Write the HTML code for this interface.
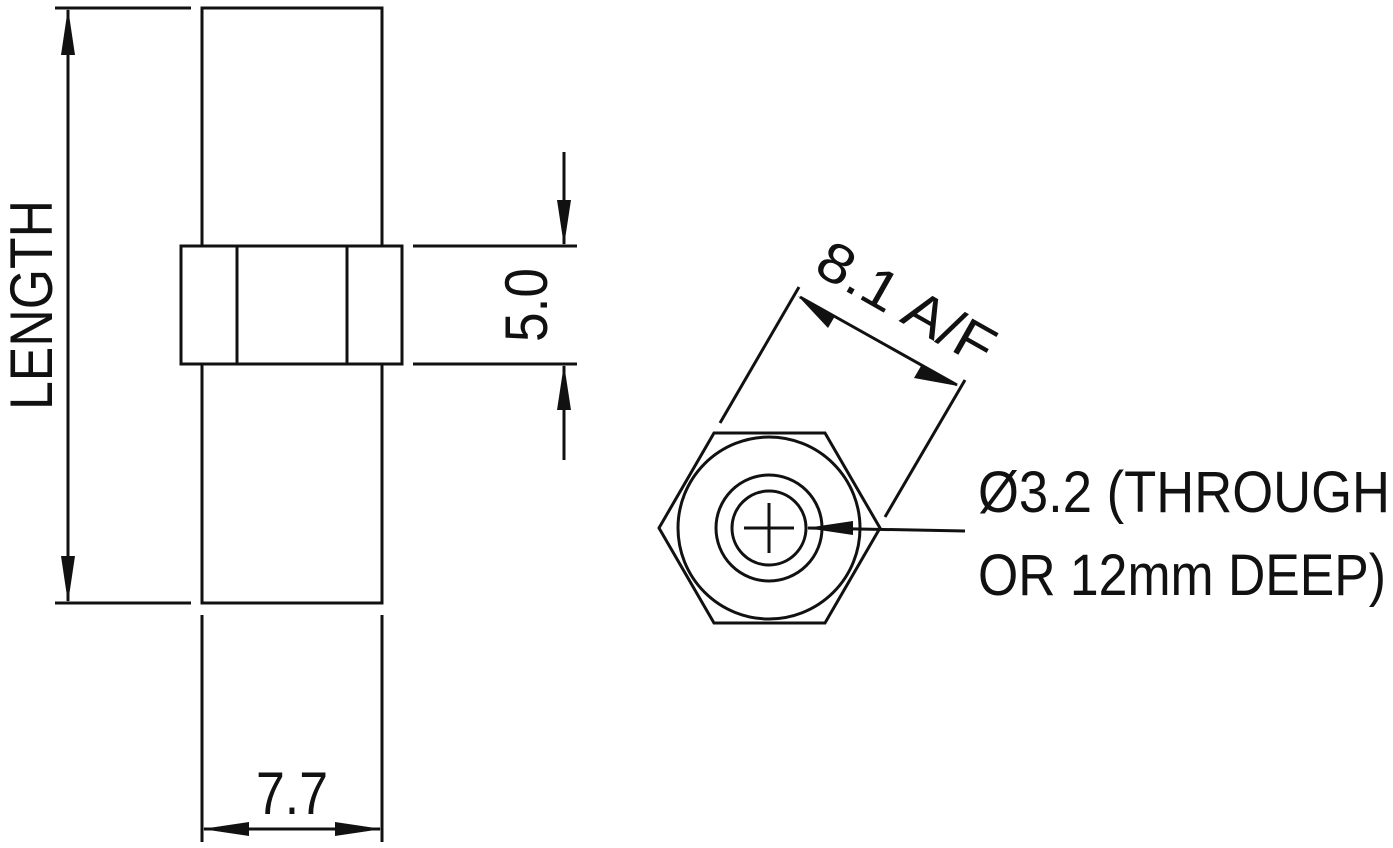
<!DOCTYPE html>
<html><head><meta charset="utf-8"><style>html,body{margin:0;padding:0;background:#fff}svg{display:block}</style></head>
<body>
<svg width="1393" height="848" viewBox="0 0 1393 848" xmlns="http://www.w3.org/2000/svg">
<g stroke="#111" stroke-width="3" fill="none" stroke-linecap="butt">
<line x1="55" y1="8" x2="191" y2="8"/>
<line x1="55" y1="603" x2="191" y2="603"/>
<rect x="202" y="8" width="180" height="595"/>
<rect x="181" y="246" width="221" height="118" fill="#fff"/>
<line x1="237" y1="246" x2="237" y2="364"/>
<line x1="347" y1="246" x2="347" y2="364"/>
<line x1="68" y1="10" x2="68" y2="601"/>
<line x1="202" y1="615" x2="202" y2="842"/>
<line x1="382" y1="615" x2="382" y2="842"/>
<line x1="204" y1="829" x2="380" y2="829"/>
<line x1="413" y1="246" x2="577" y2="246"/>
<line x1="413" y1="364" x2="577" y2="364"/>
<line x1="564" y1="152" x2="564" y2="244"/>
<line x1="564" y1="366" x2="564" y2="460"/>
<polygon points="659,528 714,433 825,433 880,528 825,623 714,623"/>
<circle cx="769" cy="528" r="91"/>
<circle cx="769" cy="528" r="53"/>
<circle cx="769" cy="528" r="37"/>
<line x1="744" y1="528" x2="794" y2="528"/>
<line x1="769" y1="503" x2="769" y2="553"/>
<line x1="808" y1="528" x2="965" y2="531"/>
<line x1="720" y1="423" x2="799" y2="287"/>
<line x1="885" y1="517" x2="965" y2="380"/>
<line x1="800" y1="297" x2="957" y2="385"/>
</g>
<g fill="#111" stroke="none">
<polygon points="68,8 61,55 75,55"/>
<polygon points="68,603 61,556 75,556"/>
<polygon points="202,829 249,822 249,836"/>
<polygon points="382,829 335,822 335,836"/>
<polygon points="564,246 557,200 571,200"/>
<polygon points="564,364 557,410 571,410"/>
<polygon points="806,528 853,521 853,535"/>
<polygon points="798,296 835,316 828,328"/>
<polygon points="958,386 921,366 914,378"/>
</g>
<g font-family="'Liberation Sans', 'DejaVu Sans', sans-serif" fill="#111">
<text x="0" y="0" font-size="60" textLength="210" lengthAdjust="spacingAndGlyphs" transform="translate(52,410) rotate(-90)">LENGTH</text>
<text x="0" y="0" font-size="60" textLength="74" lengthAdjust="spacingAndGlyphs" transform="translate(547,342) rotate(-90)">5.0</text>
<text x="256" y="814" font-size="60" textLength="72" lengthAdjust="spacingAndGlyphs">7.7</text>
<text x="0" y="0" font-size="56" textLength="195" lengthAdjust="spacingAndGlyphs" transform="translate(812,272) rotate(29.5)">8.1 A/F</text>
<text x="978" y="512" font-size="58" textLength="412" lengthAdjust="spacingAndGlyphs">Ø3.2 (THROUGH</text>
<text x="978" y="595" font-size="58" textLength="408" lengthAdjust="spacingAndGlyphs">OR 12mm DEEP)</text>
</g>
</svg>
</body></html>
